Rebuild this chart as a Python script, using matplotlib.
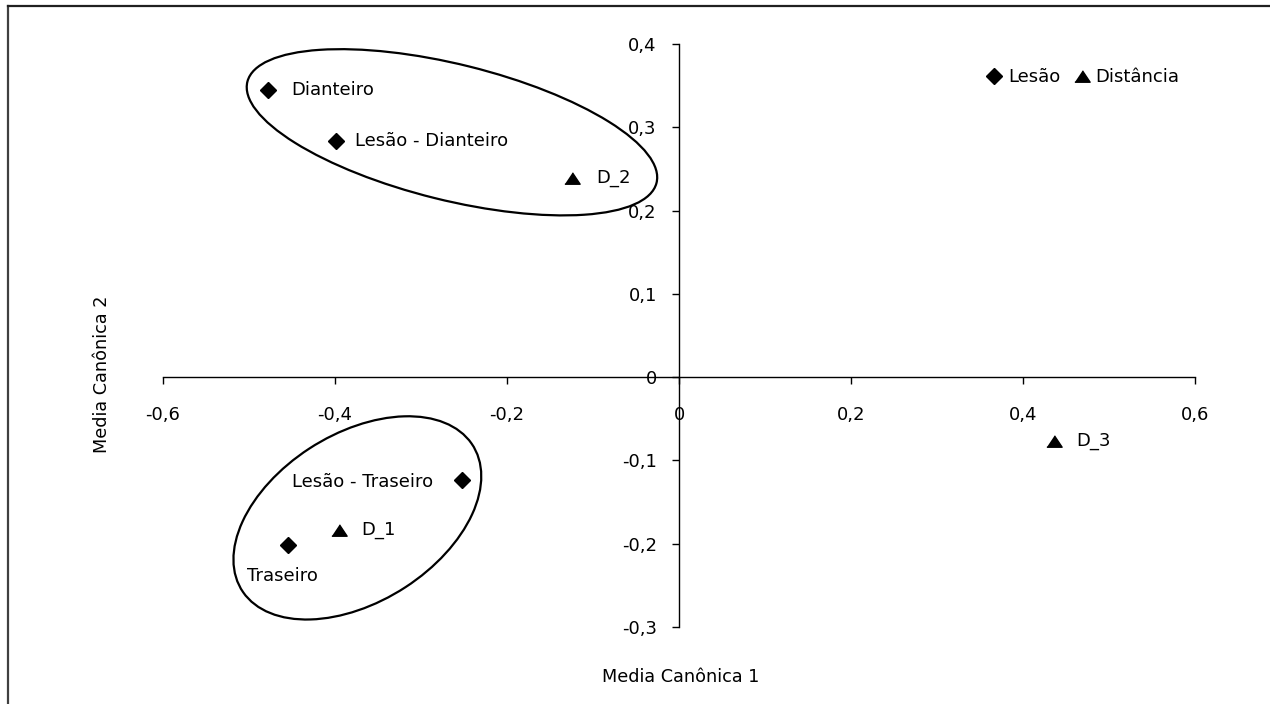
import matplotlib
matplotlib.use("Agg")
import matplotlib.pyplot as plt
from matplotlib.patches import Ellipse
from matplotlib.lines import Line2D

# pontos das médias canônicas
lesao_labels = ["Dianteiro", "Lesão - Dianteiro", "Lesão - Traseiro", "Traseiro"]
lesao_x = [-0.478, -0.399, -0.252, -0.455]
lesao_y = [0.345, 0.284, -0.123, -0.202]

dist_labels = ["D_1", "D_2", "D_3"]
dist_x = [-0.395, -0.125, 0.436]
dist_y = [-0.184, 0.239, -0.077]

x_ticks = [-0.6, -0.4, -0.2, 0, 0.2, 0.4, 0.6]
y_ticks = [-0.3, -0.2, -0.1, 0, 0.1, 0.2, 0.3, 0.4]

# offsets (pt) of each data label relative to its marker
lesao_offsets = [((17, 0), "left"), ((14, 0), "left"), ((-21, -2), "right"), ((-4, -22), "center")]
dist_offsets = [((16, 0), "left"), ((18, 0), "left"), ((16, 0), "left")]

plt.rcParams["font.family"] = ["DejaVu Sans"]
FS = 13

fig = plt.figure(figsize=(12.7, 7.04), dpi=100)
W, H = 1270, 704
ax = fig.add_axes([163 / W, 1 - 627 / H, 1032 / W, 583 / H])

ax.set_xlim(-0.6, 0.6)
ax.set_ylim(-0.3, 0.4)

for side in ["left", "bottom"]:
    ax.spines[side].set_position(("data", 0))
    ax.spines[side].set_linewidth(1.0)
for side in ["top", "right"]:
    ax.spines[side].set_visible(False)

ax.set_xticks(x_ticks)
ax.set_yticks(y_ticks)
fmt = lambda v: ("%g" % v).replace(".", ",")
ax.set_xticklabels([fmt(v) for v in x_ticks])
ax.set_yticklabels([fmt(v) for v in y_ticks])
ax.tick_params(axis="x", direction="out", length=5, width=1, labelsize=FS, pad=16)
ax.tick_params(axis="y", direction="out", length=5, width=1, labelsize=FS, pad=11)

tri = [(-1, -0.75), (1, -0.75), (0, 0.75)]
ax.plot(lesao_x, lesao_y, ls="none", marker="D", ms=8, color="black", label="Lesão", clip_on=False)
ax.plot(dist_x, dist_y, ls="none", marker=tri, ms=11, color="black", label="Distância", clip_on=False)

for lab, x, y, (off, ha) in zip(lesao_labels, lesao_x, lesao_y, lesao_offsets):
    ax.annotate(lab, (x, y), xytext=off, textcoords="offset points",
                ha=ha, va="center", fontsize=FS)
for lab, x, y, (off, ha) in zip(dist_labels, dist_x, dist_y, dist_offsets):
    ax.annotate(lab, (x, y), xytext=off, textcoords="offset points",
                ha=ha, va="center", fontsize=FS)

# grupos
ax.add_patch(Ellipse((-0.264, 0.294), 0.491, 0.163, angle=-14.4,
                     fill=False, lw=1.6, edgecolor="black"))
ax.add_patch(Ellipse((-0.374, -0.169), 0.320, 0.2005, angle=33.9,
                     fill=False, lw=1.6, edgecolor="black"))

fig.text(681 / W, 1 - 677 / H, "Media Canônica 1", ha="center", va="center", fontsize=12.7)
fig.text(102 / W, 1 - 374 / H, "Media Canônica 2", ha="center", va="center",
         rotation=90, fontsize=12.7)

ax.legend(loc="center left", bbox_to_anchor=(989 / W, 1 - 77 / H), bbox_transform=fig.transFigure,
          ncol=2, frameon=False, fontsize=FS, handlelength=0.6, handletextpad=0.45,
          columnspacing=0.9, borderpad=0, borderaxespad=0)

# moldura
fig.add_artist(Line2D([8 / W, 8 / W], [0, 1 - 6 / H], color="#404040", lw=1.6))
fig.add_artist(Line2D([8 / W, 1], [1 - 6 / H, 1 - 6 / H], color="#202020", lw=1.6))

fig.savefig("out.png", dpi=100)
